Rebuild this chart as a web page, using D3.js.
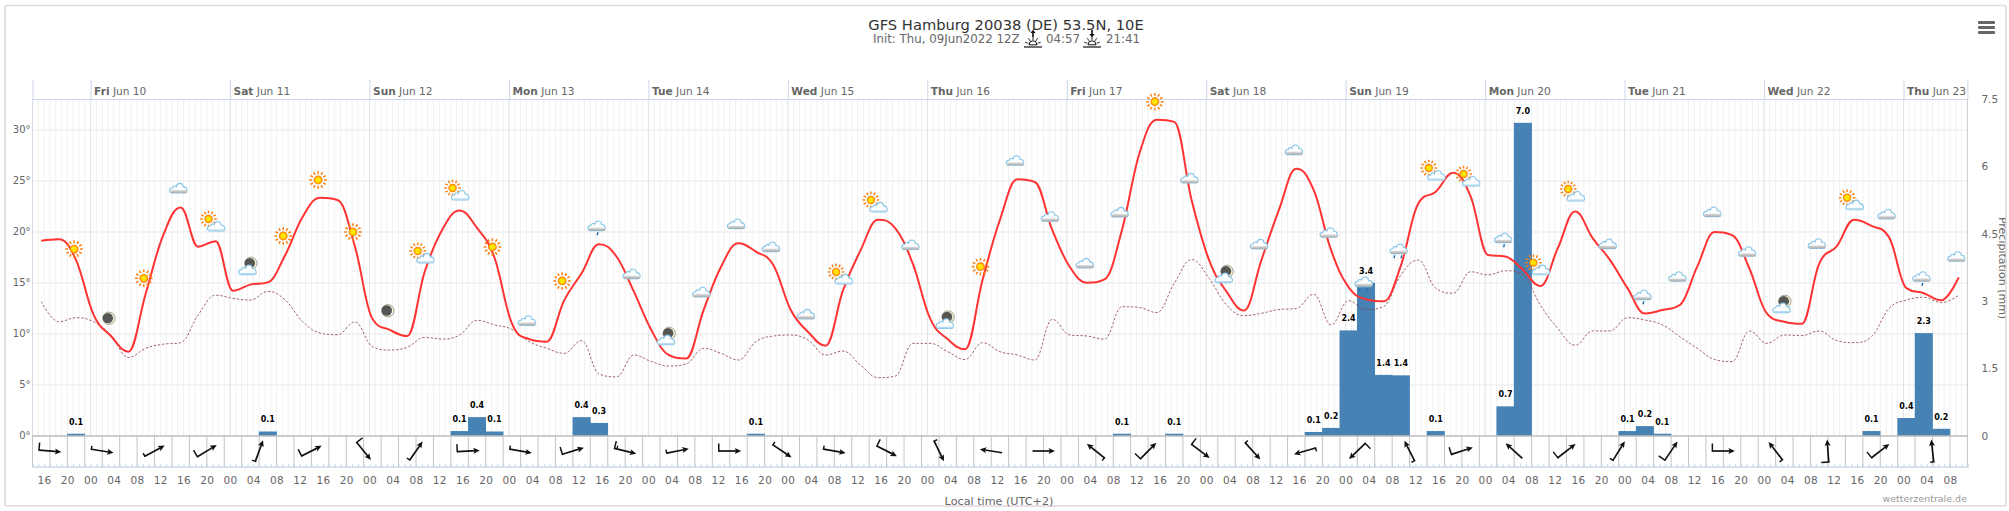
<!DOCTYPE html>
<html><head><meta charset="utf-8">
<script src="https://cdnjs.cloudflare.com/ajax/libs/d3/7.8.5/d3.min.js"></script>
<style>
html,body{margin:0;padding:0;background:#fff}
svg{display:block}
text{font-family:"DejaVu Sans",sans-serif}
</style></head><body>
<svg id="c" width="2009" height="511"></svg>
<script>
const titleText="GFS Hamburg 20038 (DE) 53.5N, 10E";
const initText="Init: Thu, 09Jun2022 12Z";
const sunriseText="04:57", sunsetText="21:41";
const xAxisTitle="Local time (UTC+2)";
const rightAxisTitle="Precipitation (mm)";
const creditText="wetterzentrale.de";
const tempTicks=[0,5,10,15,20,25,30];
const precipTicks=[0,1.5,3,4.5,6,7.5];
const startHour=Date.UTC(2022,5,9,14);
const spanHours=333;
const dayNames=["Fri","Sat","Sun","Mon","Tue","Wed","Thu","Fri","Sat","Sun","Mon","Tue","Wed","Thu"];
// 3-hourly series, first value at 15:30 on 9 June
const temperature=[19.15,19.3,17.25,11.9,9.8,8.27,14,19.7,22.4,18.56,19.1,14.25,14.84,15.06,17.75,21.5,23.37,23.14,18.56,11.5,10.4,9.8,16.1,20.2,22.1,20.4,17.5,11.05,9.5,9.25,13.3,15.95,18.8,17.6,14.15,10.4,7.94,7.6,12.35,16.6,18.9,18.07,16.76,12.35,10.2,8.86,14.3,18.2,21.2,20.36,16.9,11.5,9.5,8.5,15.3,21.2,25.16,24.9,20.2,16.6,15.03,15.36,20.2,27.7,31,30.8,23.1,17.25,14.15,12.3,17.25,22.15,26.2,24.1,18.2,14.6,13.4,13.2,16.7,22.8,23.95,25.8,23.5,17.75,17.6,16.3,14.7,18.4,22,19.4,17.25,14.5,12,12.35,12.84,16.6,20,19.7,16.4,12,11.2,11,16.9,18.6,21.2,20.6,19.5,14.5,14,13.3,15.55];
const dewPoint=[13.17,11.2,11.6,11.2,9.9,7.7,8.6,9,9.15,11.86,13.8,13.5,13.33,14.18,13.33,11.2,10.1,9.93,11.18,8.76,8.43,8.7,9.67,9.5,9.9,11.34,10.9,10.46,9.25,8.6,8.1,9.35,6.08,5.8,7.94,7.3,6.86,7.06,8.6,8.1,7.45,9.25,9.8,9.9,9.4,7.94,8.33,6.96,5.72,5.88,9.08,9.08,8.27,7.5,9.15,8.27,7.94,7.45,11.44,9.9,9.8,9.5,12.68,12.6,12.1,14.97,17.3,15.46,12.84,11.8,12.03,12.4,12.5,13.9,10.9,13.27,12.4,12.68,15.8,17.25,14.5,14,16.1,15.8,16.2,15.8,12.84,10.55,8.9,10.3,10.3,11.6,11.37,10.9,9.74,8.6,7.5,7.3,10.3,9.08,9.9,9.84,10.3,9.35,9.15,9.74,12.5,13.33,13.6,13.07,13.8];
const precipitation=[0,0,0.05,0,0,0,0,0,0,0,0,0,0,0.1,0,0,0,0,0,0,0,0,0,0,0.11,0.42,0.1,0,0,0,0,0.42,0.29,0,0,0,0,0,0,0,0,0.05,0,0,0,0,0,0,0,0,0,0,0,0,0,0,0,0,0,0,0,0,0.05,0,0,0.05,0,0,0,0,0,0,0,0.09,0.18,2.35,3.41,1.36,1.35,0,0.11,0,0,0,0.66,6.97,0,0,0,0,0,0.11,0.22,0.05,0,0,0,0,0,0,0,0,0,0,0,0.11,0,0.4,2.29,0.16,0];
// weather symbols, every 6 hours from point 2, with the height in degrees they sit at
const iconKinds=["S","M","S","C","CS","CM","S","S","S","M","CS","CS","S","C","S","R","C","CM","C","C","C","C","CS","CS","C","CM","S","C","C","C","C","S","C","CM","C","C","C","RR","RR","CS","CS","R","CS","CS","C","R","C","C","C","CM","C","CS","C","R","C"];
const iconDegrees=[18.33,11.54,15.46,24.28,20.88,16.57,19.61,25.1,20,12.28,17.75,23.92,18.53,11.3,15.2,20.59,15.88,9.7,14.09,20.78,18.53,11.93,15.69,22.75,18.73,11.3,16.6,26.99,21.5,16.93,21.93,32.77,25.26,15.78,18.79,28.04,19.93,15.1,18.33,25.88,25.29,19.41,16.6,23.82,18.82,13.82,15.62,21.96,18.07,12.84,18.85,22.97,21.74,15.62,17.58];
// wind, every 9 hours: heading in degrees clockwise from east, and barb size
const windHeading=[5,9,-28,-31,-70,-27,51,-55,-3,10,-17,14,-11,0,34,10,27,64,189,0,219,-45,37,48,164,136,243,-18,222,-38,-58,-56,0,232,266,-38,264];
const windBarb=[1,0.5,0.5,1,0.5,1,1,0.5,1,0.5,1,1.5,0.5,1,0.5,0.5,1,0.5,0,0,0.5,1,1,0.5,0.5,1,0.5,1,0,1,0.5,1,1,0.5,1,1,0.5];

const L=32.5,R=1967.4,T=99,Z=436,B=466.7;
const svg=d3.select("#c");
const hour=3600e3;
const x=d3.scaleUtc().domain([startHour,startHour+spanHours*hour]).range([L,R]);
const yT=d3.scaleLinear().domain([0,33.04]).range([Z,T]);
const yP=d3.scaleLinear().domain([0,7.5]).range([Z,T]);
const ptTime=k=>startHour+(3*k+1.5)*hour;

// frame
svg.append("rect").attr("x",5).attr("y",5.5).attr("width",2001).attr("height",500.5).attr("rx",2)
 .attr("fill","#fff").attr("stroke","#dcdcdc").attr("stroke-width",1.6);

// defs
const defs=svg.append("defs");
const sg=defs.append("radialGradient").attr("id","sunG");
sg.append("stop").attr("offset","0%").attr("stop-color","#ffee00");
sg.append("stop").attr("offset","50%").attr("stop-color","#ffe000");
sg.append("stop").attr("offset","100%").attr("stop-color","#ff7000");
const cg=defs.append("linearGradient").attr("id","bandG").attr("x1",0).attr("x2",0).attr("y1",0).attr("y2",1);
cg.append("stop").attr("offset","0%").attr("stop-color","#e4e4e4");
cg.append("stop").attr("offset","100%").attr("stop-color","#a9a9a9");
defs.append("clipPath").attr("id","frameClip").append("rect").attr("x",0).attr("y",0).attr("width",2005.6).attr("height",511);

// grid
const hours=d3.utcHour.range(new Date(startHour),new Date(startHour+spanHours*hour+1));
const days=d3.utcDay.range(new Date(startHour),new Date(startHour+spanHours*hour));
const grid=svg.append("g");
grid.selectAll("line.h").data(hours).join("line").attr("x1",d=>x(d)).attr("x2",d=>x(d)).attr("y1",T).attr("y2",Z).attr("stroke","#f1f1f1").attr("stroke-width",1);
grid.selectAll("line.t").data(tempTicks.slice(1)).join("line").attr("x1",L).attr("x2",R).attr("y1",d=>yT(d)).attr("y2",d=>yT(d)).attr("stroke","#efefef").attr("stroke-width",1.3);
grid.selectAll("line.d").data(days).join("line").attr("x1",d=>x(d)).attr("x2",d=>x(d)).attr("y1",T).attr("y2",Z).attr("stroke","#e4e4e4").attr("stroke-width",1);

// top day axis
const topAxis=d3.axisTop(x).tickValues(days).tickSize(19).tickFormat("");
const gTop=svg.append("g").attr("transform",`translate(0,${T})`).call(topAxis);
gTop.select(".domain").attr("stroke","#ccd6eb").attr("stroke-width",1);
gTop.selectAll(".tick line").attr("stroke","#ccd6eb");
const dayLabel=svg.append("g").selectAll("text").data(days).join("text")
 .attr("x",d=>x(d)+3.5).attr("y",95).attr("font-size",10.6).attr("fill","#666");
dayLabel.append("tspan").attr("font-weight","bold").text((d,i)=>dayNames[i]);
dayLabel.append("tspan").text(d=>" "+d3.utcFormat("%b %-d")(d));

// wind panel
const threeH=d3.range(0,spanHours+1,3).map(h=>new Date(startHour+h*hour));
svg.append("g").selectAll("line").data(threeH).join("line").attr("x1",d=>x(d)).attr("x2",d=>x(d)).attr("y1",Z).attr("y2",B).attr("stroke","#c4c4c4").attr("stroke-width",1);
svg.append("line").attr("x1",L).attr("x2",L).attr("y1",T).attr("y2",Z).attr("stroke","#d4dae6");
svg.append("line").attr("x1",R).attr("x2",R).attr("y1",T).attr("y2",Z).attr("stroke","#ccc");

// bars
const barW=x(startHour+3*hour)-x(startHour);
const bars=precipitation.map((v,k)=>({v,k})).filter(d=>d.v>0);
svg.append("g").selectAll("rect").data(bars).join("rect")
 .attr("x",d=>x(ptTime(d.k))-barW/2-0.3).attr("width",barW+0.6)
 .attr("y",d=>yP(d.v)).attr("height",d=>Z-yP(d.v)).attr("fill","#4682b4");

// zero line and bottom axis
svg.append("line").attr("x1",L).attr("x2",R).attr("y1",Z).attr("y2",Z).attr("stroke","#bdbdbd").attr("stroke-width",1.4);
const minor=d3.axisBottom(x).tickValues(hours).tickSize(-2.5).tickFormat("");
const gMin=svg.append("g").attr("transform",`translate(0,${B})`).call(minor);
gMin.select(".domain").attr("stroke","#c3d2e8").attr("stroke-width",1.2);
gMin.selectAll(".tick line").attr("stroke","#c3d2e8");
const fourH=d3.range(2,spanHours+1,4).map(h=>new Date(startHour+h*hour));
const major=d3.axisBottom(x).tickValues(fourH).tickSize(0).tickPadding(10).tickFormat(d3.utcFormat("%H"));
const gMaj=svg.append("g").attr("transform",`translate(0,${B})`).call(major);
gMaj.select(".domain").remove();
gMaj.selectAll("text").attr("font-size",10.5).attr("fill","#666").attr("font-family","DejaVu Sans").attr("letter-spacing",0.4);

// left/right axes
const gL=svg.append("g").attr("transform",`translate(${L},0)`).call(d3.axisLeft(yT).tickValues(tempTicks).tickSize(0).tickPadding(2).tickFormat(d=>d+"°"));
gL.select(".domain").remove();
gL.selectAll("text").attr("font-size",10).attr("fill","#666").attr("font-family","DejaVu Sans").attr("dy","0.2em");
const gR=svg.append("g").attr("transform",`translate(${R},0)`).call(d3.axisRight(yP).tickValues(precipTicks).tickSize(0).tickPadding(14).tickFormat(d=>d));
gR.select(".domain").remove();
gR.selectAll("text").attr("font-size",10.5).attr("fill","#666").attr("font-family","DejaVu Sans");

// lines
const hcCurve=ctx=>{let p;return{
 lineStart(){p=[];},
 point(a,b){p.push([+a,+b]);},
 lineEnd(){
  const n=p.length,lc=[],rc=[],s=1.5,dn=2.5;
  p.forEach((c,i)=>{
   if(i===0||i===n-1){lc[i]=c.slice();rc[i]=c.slice();return;}
   const a=p[i-1],b=p[i+1];
   const lx=(s*c[0]+a[0])/dn;let ly=(s*c[1]+a[1])/dn;
   const rx=(s*c[0]+b[0])/dn;let ry=(s*c[1]+b[1])/dn;
   const cor=((ry-ly)*(rx-c[0]))/(rx-lx)+c[1]-ry;ly+=cor;ry+=cor;
   if(ly>a[1]&&ly>c[1]){ly=Math.max(a[1],c[1]);ry=2*c[1]-ly;}
   else if(ly<a[1]&&ly<c[1]){ly=Math.min(a[1],c[1]);ry=2*c[1]-ly;}
   if(ry>b[1]&&ry>c[1]){ry=Math.max(b[1],c[1]);ly=2*c[1]-ry;}
   else if(ry<b[1]&&ry<c[1]){ry=Math.min(b[1],c[1]);ly=2*c[1]-ry;}
   lc[i]=[lx,ly];rc[i]=[rx,ry];
  });
  ctx.moveTo(p[0][0],p[0][1]);
  for(let i=1;i<n;i++)ctx.bezierCurveTo(rc[i-1][0],rc[i-1][1],lc[i][0],lc[i][1],p[i][0],p[i][1]);
 },
 areaStart(){},areaEnd(){}
};};
const line=y=>d3.line().x((d,k)=>x(ptTime(k))).y(d=>y(d)).curve(hcCurve);
svg.append("path").datum(dewPoint).attr("d",line(yT)).attr("fill","none").attr("stroke","#8e3b46").attr("stroke-width",1).attr("stroke-dasharray","2.4,1.8").attr("opacity",0.8);
svg.append("path").datum(temperature).attr("d",line(yT)).attr("fill","none").attr("stroke","#ff3333").attr("stroke-width",2).attr("stroke-linejoin","round");

// icons
function sun(g,s){
 const o=g.append("g").attr("transform",`scale(${s})`);
 d3.range(12).forEach(i=>{const a=i*Math.PI/6;
  o.append("line").attr("x1",6*Math.cos(a)).attr("y1",6*Math.sin(a)).attr("x2",8.8*Math.cos(a)).attr("y2",8.8*Math.sin(a)).attr("stroke","#ff7f10").attr("stroke-width",1.5);});
 o.append("circle").attr("r",4.4).attr("fill","url(#sunG)");
}
const cloudPath="M-6.5,4.6 C-10,4.6 -10,-0.4 -6,-0.6 C-5.6,-2.6 -3.4,-3 -2.4,-1.8 C-1.6,-6 4,-6.2 4.6,-1.4 C8.4,-2 9.8,4.6 6.4,4.6 Z";
function cloud(g,grey){
 g.append("path").attr("d",cloudPath).attr("fill","#fbfdff").attr("stroke","#88c6e6").attr("stroke-width",1.1);
 if(grey)g.append("rect").attr("x",-8).attr("y",1.6).attr("width",16).attr("height",3).attr("fill","url(#bandG)");
 else g.append("rect").attr("x",-7.5).attr("y",3).attr("width",15).attr("height",1.6).attr("fill","#b5d9ee");
}
function moon(g){
 g.append("circle").attr("r",6.2).attr("fill","#f0ecd2").attr("stroke","#9a9a8c").attr("stroke-width",0.9);
 g.append("circle").attr("cx",-1.1).attr("cy",-0.2).attr("r",5.2).attr("fill","#555553");
}
function drops(g,xs){xs.forEach(d=>g.append("path").attr("d",`M${d},6.2 l-0.9,3`).attr("stroke","#1f6fb5").attr("stroke-width",1.4).attr("fill","none"));}
const draw={
 S:g=>sun(g,1),
 M:g=>moon(g),
 C:g=>cloud(g,true),
 CS:g=>{sun(g.append("g").attr("transform","translate(-5,-4)"),0.95);cloud(g.append("g").attr("transform","translate(3,3.4)"),false);},
 CM:g=>{moon(g.append("g").attr("transform","translate(2.5,-3.7)"));cloud(g.append("g").attr("transform","translate(-0.5,3)"),false);},
 R:g=>{cloud(g,true);drops(g,[1]);},
 RR:g=>{cloud(g,true);drops(g,[-4,3]);}
};
const iconG=svg.append("g");
iconKinds.forEach((kind,i)=>{
 const k=2+2*i;
 const g=iconG.append("g").attr("transform",`translate(${x(ptTime(k))-2},${yT(iconDegrees[i])})`);
 draw[kind](g);
});

// data labels
svg.append("g").selectAll("text").data(bars).join("text")
 .attr("x",d=>x(ptTime(d.k))).attr("y",d=>yP(d.v)-12).attr("dy","0.35em")
 .attr("text-anchor","middle").attr("font-size",8).attr("font-weight","bold").attr("fill","#000")
 .attr("stroke","#fff").attr("stroke-width",1.6).attr("paint-order","stroke")
 .text(d=>d.v.toFixed(1));

// wind arrows
const windG=svg.append("g");
windHeading.forEach((a,i)=>{
 const g=windG.append("g").attr("transform",`translate(${x(startHour+(9*i+3)*hour)},451) rotate(${a})`);
 g.append("line").attr("x1",-11).attr("x2",8).attr("stroke","#111").attr("stroke-width",1.7);
 g.append("path").attr("d","M11.5,0 L5,-3 L6.4,0 L5,3 Z").attr("fill","#111");
 const b=windBarb[i];
 if(b>0){
  const full=b>=1;
  g.append("line").attr("x1",-11).attr("y1",0.8).attr("x2",-11).attr("y2",-(full?7.5:3.5)).attr("stroke","#111").attr("stroke-width",1.5);
  if(b===1.5)g.append("line").attr("x1",-8.5).attr("y1",0).attr("x2",-8.5).attr("y2",-3.5).attr("stroke","#111").attr("stroke-width",1.3);
 }
});

// titles
svg.append("text").attr("x",1006).attr("y",30).attr("text-anchor","middle").attr("font-size",14.7).attr("fill","#333").text(titleText);
svg.append("text").attr("x",873).attr("y",43).attr("font-size",11.8).attr("fill","#666").text(initText);
svg.append("text").attr("x",1046).attr("y",43).attr("font-size",11.8).attr("fill","#666").text(sunriseText);
svg.append("text").attr("x",1106).attr("y",43).attr("font-size",11.8).attr("fill","#666").text(sunsetText);
function sunMark(cx,up){
 const g=svg.append("g").attr("transform",`translate(${cx},0)`);
 g.append("line").attr("x1",-9).attr("x2",9).attr("y1",47).attr("y2",47).attr("stroke","#111").attr("stroke-width",1.2);
 g.append("path").attr("d","M-4,44.8 A4,4 0 0 1 4,44.8 Z").attr("fill","none").attr("stroke","#111").attr("stroke-width",1);
 [-70,-35,0,35,70].forEach(a=>{const r=a*Math.PI/180;
  g.append("line").attr("x1",5*Math.sin(r)).attr("y1",45-5*Math.cos(r)).attr("x2",8.2*Math.sin(r)).attr("y2",45-8.2*Math.cos(r)).attr("stroke","#111").attr("stroke-width",0.9);});
 g.append("line").attr("x1",0).attr("x2",0).attr("y1",up?32:30).attr("y2",up?37:35).attr("stroke","#111").attr("stroke-width",1.6);
 g.append("path").attr("d",up?"M-2.6,33 L0,29.8 L2.6,33 Z":"M-2.6,34 L0,37.4 L2.6,34 Z").attr("fill","#111");
}
sunMark(1033,true);
sunMark(1092,false);

// axis titles
svg.append("text").attr("x",999).attr("y",504.5).attr("text-anchor","middle").attr("font-size",11.2).attr("fill","#666").text(xAxisTitle);
svg.append("text").attr("x",1967).attr("y",502).attr("text-anchor","end").attr("font-size",9.5).attr("fill","#999").text(creditText);
svg.append("g").attr("clip-path","url(#frameClip)").append("text").attr("transform","translate(1999,268) rotate(90)").attr("text-anchor","middle").attr("font-size",11).attr("fill","#666").text(rightAxisTitle);

// menu icon
svg.append("g").selectAll("rect").data([21,26,31]).join("rect").attr("x",1978).attr("width",17).attr("y",d=>d).attr("height",3).attr("rx",1).attr("fill","#666");
</script>
</body></html>
